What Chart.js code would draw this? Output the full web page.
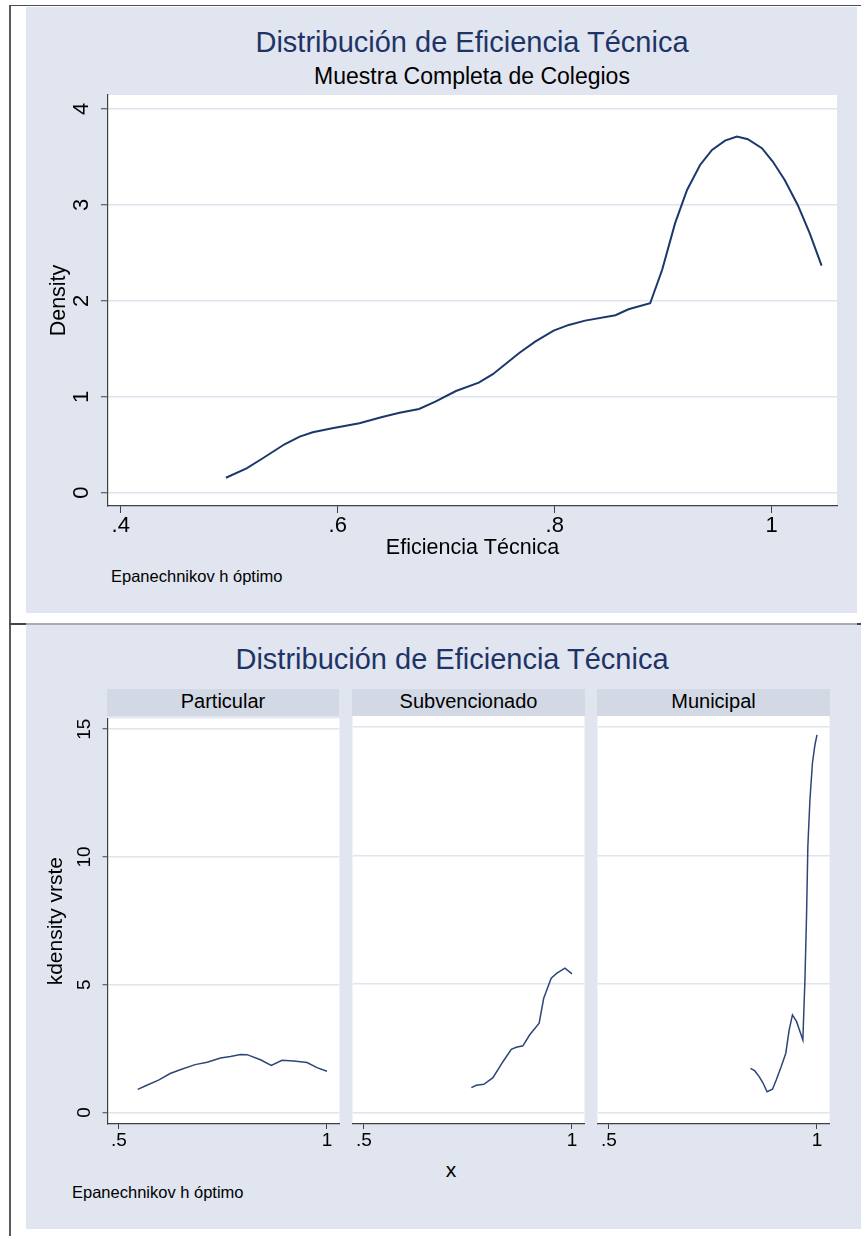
<!DOCTYPE html>
<html>
<head>
<meta charset="utf-8">
<script src="https://cdn.jsdelivr.net/npm/chart.js@4.4.1/dist/chart.umd.min.js"></script>
<style>
  html, body { margin: 0; padding: 0; background: #fff; }
  body { position: relative; width: 861px; height: 1236px; overflow: hidden;
         font-family: "Liberation Sans", Arial, Helvetica, sans-serif; color: #000; }
  .box { position: absolute; }
  .region { position: absolute; background: #e0e5ef; }
  .txt { position: absolute; white-space: nowrap; line-height: 1; }
  .strip { position: absolute; background: #d3d9e4; text-align: center; }
  canvas { position: absolute; }
</style>
</head>
<body>
<!-- frame lines -->
<div class="box" style="left:9px;top:5px;width:2px;height:1231px;background:#5a5a5a"></div>
<div class="box" style="left:9px;top:5px;width:852px;height:1px;background:#4d4d4d"></div>
<div class="box" style="left:9px;top:623px;width:852px;height:2px;background:#444"></div>
<div class="box" style="left:26px;top:623px;width:831px;height:2px;background:#a9abb0"></div>

<!-- graph regions -->
<div class="region" style="left:26px;top:7px;width:831px;height:606px"></div>
<div class="region" style="left:26px;top:625px;width:835px;height:604px"></div>

<!-- upper graph texts -->
<div class="txt" style="left:172px;width:600px;text-align:center;top:28px;font-size:29px;color:#1f3466">Distribución de Eficiencia Técnica</div>
<div class="txt" style="left:172px;width:600px;text-align:center;top:65px;font-size:23px">Muestra Completa de Colegios</div>
<div class="txt" style="left:111px;top:568px;font-size:16.5px">Epanechnikov h óptimo</div>

<!-- lower graph texts -->
<div class="txt" style="left:152px;width:600px;text-align:center;top:645px;font-size:29px;color:#1f3466">Distribución de Eficiencia Técnica</div>
<div class="strip" style="left:107px;top:689px;width:232px;height:27px"><div class="txt" style="left:0;width:100%;top:2px;font-size:20px">Particular</div></div>
<div class="strip" style="left:352px;top:689px;width:233px;height:27px"><div class="txt" style="left:0;width:100%;top:2px;font-size:20px">Subvencionado</div></div>
<div class="strip" style="left:597px;top:689px;width:233px;height:27px"><div class="txt" style="left:0;width:100%;top:2px;font-size:20px">Municipal</div></div>
<div class="txt" style="left:351px;width:200px;text-align:center;top:1159px;font-size:21px">x</div>
<div class="txt" style="left:72px;top:1184px;font-size:16.5px">Epanechnikov h óptimo</div>

<canvas id="cTop" width="831" height="606" style="left:26px;top:7px"></canvas>
<canvas id="cPart" width="314" height="470" style="left:26px;top:700px"></canvas>
<canvas id="cSub" width="233" height="470" style="left:352px;top:700px"></canvas>
<canvas id="cMun" width="233" height="470" style="left:597px;top:700px"></canvas>

<script>
// Kernel density, full sample
const efficiency = [0.497, 0.516, 0.531, 0.551, 0.565, 0.577, 0.595, 0.620, 0.641, 0.657, 0.675, 0.690, 0.709, 0.730, 0.743, 0.767, 0.782, 0.799, 0.813, 0.828, 0.856, 0.868, 0.888, 0.899, 0.911, 0.922, 0.934, 0.945, 0.957, 0.968, 0.978, 0.991, 1.001, 1.012, 1.024, 1.035, 1.046];
const density = [0.156, 0.254, 0.359, 0.505, 0.584, 0.630, 0.671, 0.724, 0.790, 0.834, 0.873, 0.949, 1.060, 1.147, 1.235, 1.454, 1.575, 1.690, 1.749, 1.794, 1.850, 1.912, 1.975, 2.322, 2.810, 3.156, 3.417, 3.573, 3.670, 3.712, 3.685, 3.591, 3.452, 3.260, 3.000, 2.705, 2.367];

// Kernel densities by school type
const particularX = [0.545, 0.567, 0.595, 0.623, 0.647, 0.683, 0.712, 0.744, 0.768, 0.792, 0.808, 0.840, 0.866, 0.892, 0.920, 0.952, 0.976, 1.000];
const particularY = [0.90, 1.06, 1.26, 1.52, 1.67, 1.87, 1.96, 2.13, 2.19, 2.27, 2.26, 2.06, 1.84, 2.04, 2.01, 1.95, 1.75, 1.61];
const subvencionadoX = [0.758, 0.770, 0.788, 0.810, 0.834, 0.854, 0.866, 0.882, 0.898, 0.921, 0.932, 0.950, 0.963, 0.983, 1.000];
const subvencionadoY = [0.96, 1.05, 1.09, 1.35, 1.97, 2.45, 2.53, 2.59, 3.01, 3.47, 4.44, 5.22, 5.41, 5.61, 5.39];
const municipalX = [0.840, 0.850, 0.861, 0.870, 0.880, 0.893, 0.902, 0.914, 0.925, 0.933, 0.941, 0.951, 0.966, 0.971, 0.975, 0.978, 0.983, 0.989, 0.995, 1.000];
const municipalY = [1.71, 1.62, 1.39, 1.15, 0.80, 0.90, 1.26, 1.78, 2.30, 3.20, 3.79, 3.53, 2.82, 5.15, 7.75, 10.34, 12.16, 13.59, 14.30, 14.69];

// Tick values and labels
const topXTicks = [0.4, 0.6, 0.8, 1.0];
const topXLabels = ['.4', '.6', '.8', '1'];
const topYTicks = [0, 1, 2, 3, 4];
const topYLabels = ['0', '1', '2', '3', '4'];
const panelXTicks = [0.5, 1.0];
const panelXLabels = ['.5', '1'];
const panelYTicks = [0, 5, 10, 15];
const panelYLabels = ['0', '5', '10', '15'];

const FONT = '"Liberation Sans", Arial, Helvetica, sans-serif';
const AXIS = '#404040';
const GRID = '#dfe4ee';
Chart.defaults.font.family = FONT;
Chart.defaults.color = '#000';

const toPoints = (xs, ys) => xs.map((x, i) => ({ x: x, y: ys[i] }));

// white plot region behind the data
const plotBackground = {
  id: 'plotBackground',
  beforeDraw(chart) {
    const a = chart.chartArea, ctx = chart.ctx;
    ctx.save();
    ctx.fillStyle = '#ffffff';
    ctx.fillRect(a.left, a.top, a.right - a.left, a.bottom - a.top);
    ctx.restore();
  }
};

function fixedTicks(values) {
  return scale => { scale.ticks = values.map(v => ({ value: v })); };
}

// Upper graph: full sample
new Chart(document.getElementById('cTop'), {
  type: 'line',
  data: {
    datasets: [{
      data: toPoints(efficiency, density),
      borderColor: '#1c386a', borderWidth: 2, pointRadius: 0, tension: 0, fill: false
    }]
  },
  options: {
    responsive: false, animation: false, events: [],
    layout: { padding: { left: 0, right: 20, top: 88, bottom: 51 } },
    plugins: { legend: { display: false }, tooltip: { enabled: false }, title: { display: false } },
    scales: {
      x: {
        type: 'linear', min: 0.3883, max: 1.0602,
        afterBuildTicks: fixedTicks(topXTicks),
        afterFit: s => { s.height = 56; },
        ticks: { callback: (v, i) => topXLabels[i], autoSkip: false, maxRotation: 0, minRotation: 0,
                 padding: 0, font: { size: 22 }, color: '#000' },
        grid: { drawOnChartArea: false, tickLength: 7, tickColor: AXIS, tickWidth: 1 },
        border: { color: AXIS, width: 1.2 },
        title: { display: true, text: 'Eficiencia Técnica', font: { size: 21.5 }, color: '#000',
                 padding: { top: 0, bottom: 0.6 } }
      },
      y: {
        type: 'linear', min: -0.1387, max: 4.146,
        afterBuildTicks: fixedTicks(topYTicks),
        afterFit: s => { s.width = 82; },
        ticks: { callback: (v, i) => topYLabels[i], autoSkip: false, minRotation: 90, maxRotation: 90,
                 crossAlign: 'center', padding: 12.5, font: { size: 22 }, color: '#000' },
        grid: { color: GRID, lineWidth: 1.5, tickLength: 7, tickColor: AXIS, tickWidth: 1 },
        border: { color: AXIS, width: 1.2 },
        title: { display: true, text: 'Density', font: { size: 21.5 }, color: '#000',
                 padding: { top: 20, bottom: 0 } }
      }
    }
  },
  plugins: [plotBackground]
});

// Lower graph: one panel per school type
function panel(id, xs, ys, withAxis, padLeft, padRight) {
  const yScale = withAxis ? {
    type: 'linear', min: -0.455, max: 15.428,
    afterBuildTicks: fixedTicks(panelYTicks),
    afterFit: s => { s.width = 81.5; },
    ticks: { callback: (v, i) => panelYLabels[i], autoSkip: false, minRotation: 90, maxRotation: 90,
             crossAlign: 'center', padding: 6.9, font: { size: 19 }, color: '#000' },
    grid: { color: GRID, lineWidth: 1.5, tickLength: 5, tickColor: AXIS, tickWidth: 1 },
    border: { color: AXIS, width: 1.2 },
    title: { display: true, text: 'kdensity vrste', font: { size: 21 }, color: '#000',
             padding: { top: 17.7, bottom: 0 } }
  } : {
    type: 'linear', min: -0.455, max: 15.428,
    afterBuildTicks: fixedTicks(panelYTicks),
    afterFit: s => { s.width = 0; },
    ticks: { display: false },
    grid: { color: GRID, lineWidth: 1.5, drawTicks: false },
    border: { display: false }
  };
  return new Chart(document.getElementById(id), {
    type: 'line',
    data: {
      datasets: [{
        data: toPoints(xs, ys),
        borderColor: '#2d4577', borderWidth: 1.5, pointRadius: 0, tension: 0, fill: false
      }]
    },
    options: {
      responsive: false, animation: false, events: [],
      layout: { padding: { left: padLeft, right: padRight, top: 16, bottom: 6 } },
      plugins: { legend: { display: false }, tooltip: { enabled: false } },
      scales: {
        x: {
          type: 'linear', min: 0.47236, max: 1.03006,
          afterBuildTicks: fixedTicks(panelXTicks),
          afterFit: s => { s.height = 40; },
          ticks: { callback: (v, i) => panelXLabels[i], autoSkip: false, maxRotation: 0, minRotation: 0,
                   padding: 0, font: { size: 19 }, color: '#000' },
          grid: { drawOnChartArea: false, tickLength: 5, tickColor: AXIS, tickWidth: 1 },
          border: { color: AXIS, width: 1.2 }
        },
        y: yScale
      }
    },
    plugins: [plotBackground]
  });
}

panel('cPart', particularX, particularY, true, 0, 0.5);
panel('cSub', subvencionadoX, subvencionadoY, false, 0.5, 0.5);
panel('cMun', municipalX, municipalY, false, 0.5, 0.5);
</script>
</body>
</html>
